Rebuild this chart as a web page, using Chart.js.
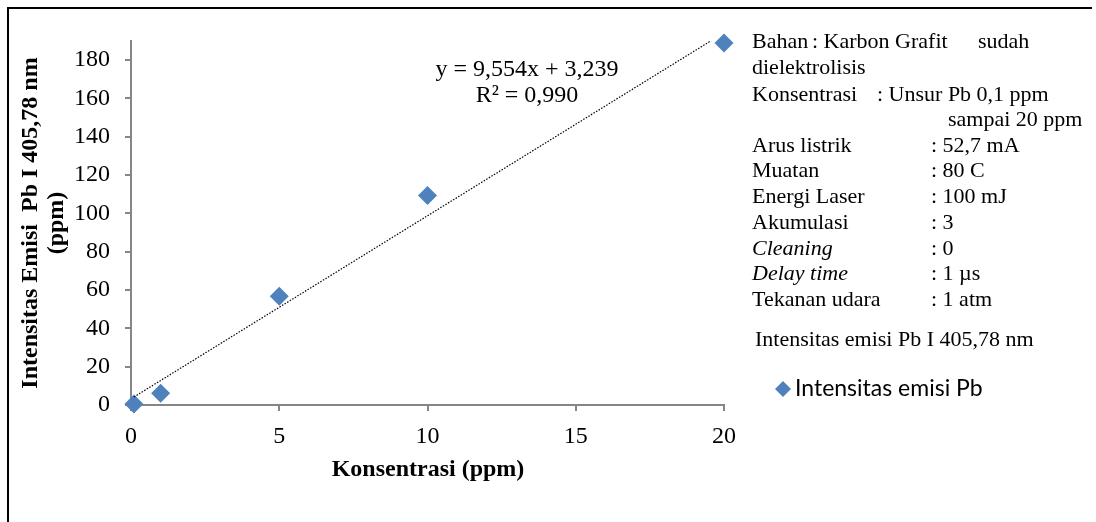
<!DOCTYPE html>
<html>
<head>
<meta charset="utf-8">
<script src="https://cdn.jsdelivr.net/npm/chart.js@4.4.0/dist/chart.umd.min.js"></script>
<style>
  html, body { margin: 0; padding: 0; background: #fff; overflow: hidden; }
  canvas { display: block; }
</style>
</head>
<body>
<canvas id="grafik" width="1096" height="522"></canvas>
<script>
// Data kalibrasi Pb I 405,78 nm
const konsentrasi = [0.1, 1, 5, 10, 20];
const intensitas = [0.5, 6.1, 56.7, 109.4, 188.9];
const xTicks = [0, 5, 10, 15, 20];
const yTicks = [0, 20, 40, 60, 80, 100, 120, 140, 160, 180];
// Persamaan regresi dari grafik
const slope = 9.554;
const intercept = 3.239;
const persamaan = ['y = 9,554x + 3,239', 'R² = 0,990'];
// Keterangan kondisi eksperimen
const keterangan = [
  ['Arus listrik', ': 52,7 mA', false],
  ['Muatan', ': 80 C', false],
  ['Energi Laser', ': 100 mJ', false],
  ['Akumulasi', ': 3', false],
  ['Cleaning', ': 0', true],
  ['Delay time', ': 1 µs', true],
  ['Tekanan udara', ': 1 atm', false]
];
const namaSeri = 'Intensitas emisi Pb';

const serif = "'Liberation Serif', 'Times New Roman', serif";
const biru = '#4F81BD';
const abu = '#868686';

const trendX = [konsentrasi[0], konsentrasi[konsentrasi.length - 1]];
const trendData = trendX.map((x) => ({ x: x, y: slope * x + intercept }));

const teksPlugin = {
  id: 'teks',
  beforeDraw(chart) {
    // bingkai kiri dan atas
    const ctx = chart.ctx;
    ctx.save();
    ctx.strokeStyle = '#000';
    ctx.lineWidth = 2;
    ctx.beginPath();
    ctx.moveTo(8, 522);
    ctx.lineTo(8, 8);
    ctx.lineTo(1092, 8);
    ctx.stroke();
    ctx.restore();
  },
  afterDraw(chart) {
    const ctx = chart.ctx;
    const area = chart.chartArea;
    ctx.save();
    ctx.fillStyle = '#000';

    // judul sumbu y
    const cy = (area.top + area.bottom) / 2;
    ctx.save();
    ctx.font = 'bold 24px ' + serif;
    ctx.textAlign = 'center';
    ctx.textBaseline = 'alphabetic';
    ctx.translate(37, cy);
    ctx.rotate(-Math.PI / 2);
    ctx.fillText('Intensitas Emisi  Pb I 405,78 nm', 0, 0);
    ctx.restore();
    ctx.save();
    ctx.font = 'bold 24px ' + serif;
    ctx.textAlign = 'center';
    ctx.translate(63, cy);
    ctx.rotate(-Math.PI / 2);
    ctx.fillText('(ppm)', 0, 0);
    ctx.restore();

    // judul sumbu x
    ctx.font = 'bold 24px ' + serif;
    ctx.textAlign = 'center';
    ctx.textBaseline = 'middle';
    ctx.fillText('Konsentrasi (ppm)', 428, 470);

    // persamaan regresi
    ctx.font = '24px ' + serif;
    ctx.fillText(persamaan[0], 527, 70);
    ctx.fillText(persamaan[1], 527, 96);

    // keterangan
    ctx.textAlign = 'left';
    ctx.font = '22px ' + serif;
    ctx.fillText('Bahan', 752, 42);
    ctx.fillText(': Karbon Grafit', 812, 42);
    ctx.fillText('sudah', 978, 42);
    ctx.fillText('dielektrolisis', 752, 68);
    ctx.fillText('Konsentrasi', 752, 95);
    ctx.fillText(': Unsur Pb 0,1 ppm', 877, 95);
    ctx.fillText('sampai 20 ppm', 948, 120);
    keterangan.forEach((k, i) => {
      const y = 146 + i * 25.7;
      ctx.font = (k[2] ? 'italic ' : '') + '22px ' + serif;
      ctx.fillText(k[0], 752, y);
      ctx.font = '22px ' + serif;
      ctx.fillText(k[1], 931, y);
    });
    ctx.fillText('Intensitas emisi Pb I 405,78 nm', 755, 340);

    // legenda
    ctx.fillStyle = biru;
    ctx.beginPath();
    ctx.moveTo(783, 381);
    ctx.lineTo(791, 389);
    ctx.lineTo(783, 397);
    ctx.lineTo(775, 389);
    ctx.closePath();
    ctx.fill();
    ctx.fillStyle = '#000';
    ctx.font = "23px Lato, 'Open Sans', sans-serif";
    ctx.fillText(namaSeri, 795, 389);
    ctx.restore();
  }
};

new Chart(document.getElementById('grafik'), {
  type: 'scatter',
  data: {
    datasets: [
      {
        label: 'Linear',
        data: trendData,
        showLine: true,
        borderColor: '#000',
        borderWidth: 1.2,
        borderDash: [1.5, 1.5],
        pointRadius: 0,
        order: 0
      },
      {
        label: namaSeri,
        data: konsentrasi.map((x, i) => ({ x: x, y: intensitas[i] })),
        pointStyle: 'rectRot',
        pointRadius: 9.5,
        backgroundColor: biru,
        borderColor: biru,
        borderWidth: 0,
        clip: false,
        order: 1
      }
    ]
  },
  options: {
    responsive: false,
    animation: false,
    layout: { padding: { top: 41, right: 372, left: 0, bottom: 0 } },
    plugins: {
      legend: { display: false },
      tooltip: { enabled: false }
    },
    scales: {
      x: {
        type: 'linear',
        position: 'bottom',
        min: 0,
        max: 20,
        afterBuildTicks: (scale) => { scale.ticks = xTicks.map((v) => ({ value: v })); },
        afterFit: (scale) => { scale.height = 117; },
        grid: { drawOnChartArea: false, color: abu, lineWidth: 2, tickLength: 6 },
        border: { color: abu, width: 2 },
        ticks: { color: '#000', font: { family: serif, size: 24 }, padding: 11, maxRotation: 0 }
      },
      y: {
        type: 'linear',
        min: 0,
        max: 190,
        afterBuildTicks: (scale) => { scale.ticks = yTicks.map((v) => ({ value: v })); },
        afterFit: (scale) => { scale.width = 131; },
        grid: { drawOnChartArea: false, color: abu, lineWidth: 2, tickLength: 6 },
        border: { color: abu, width: 2 },
        ticks: { color: '#000', font: { family: serif, size: 24 }, padding: 15 }
      }
    }
  },
  plugins: [teksPlugin]
});
</script>
</body>
</html>
